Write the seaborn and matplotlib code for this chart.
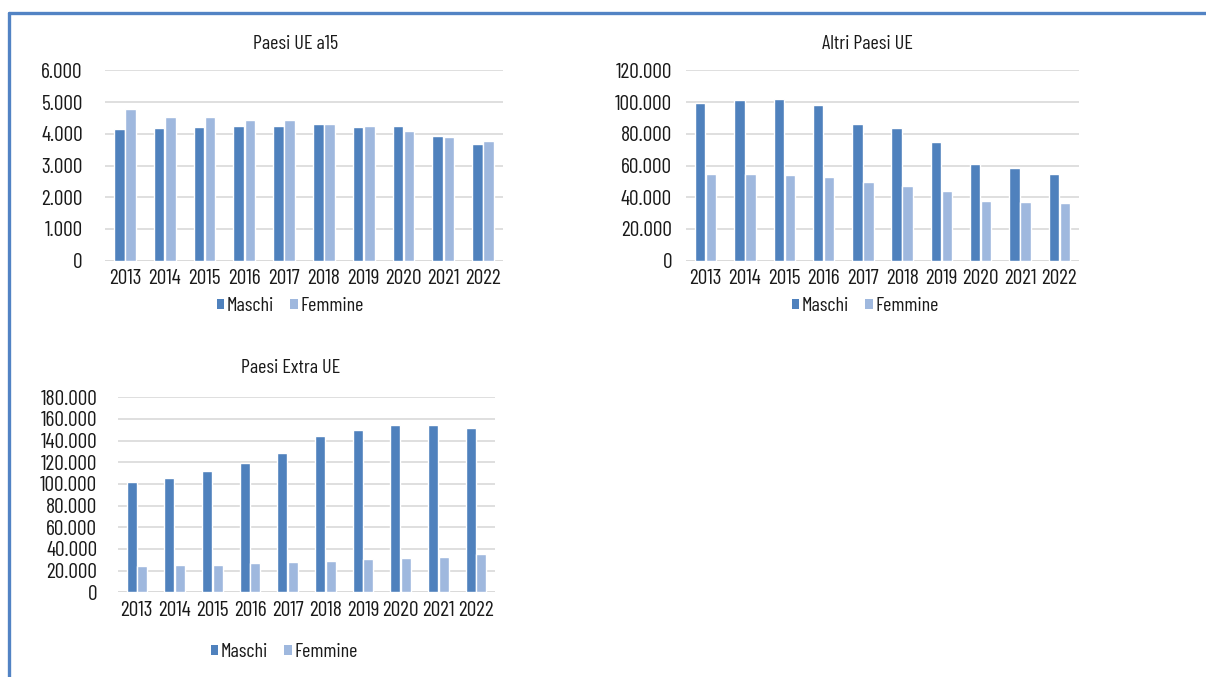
import matplotlib
matplotlib.use("Agg")
import matplotlib.pyplot as plt
import seaborn as sns
import pandas as pd
from matplotlib.ticker import FuncFormatter, MultipleLocator
from matplotlib.patches import Patch
from matplotlib.lines import Line2D

years = ["2013", "2014", "2015", "2016", "2017", "2018", "2019", "2020", "2021", "2022"]

ue15_maschi = [4140, 4170, 4210, 4260, 4230, 4310, 4210, 4230, 3930, 3680]
ue15_femmine = [4770, 4540, 4520, 4420, 4420, 4310, 4230, 4100, 3910, 3770]

altri_maschi = [99400, 101300, 101900, 98100, 86200, 83400, 75000, 60700, 58400, 54400]
altri_femmine = [54400, 54400, 54000, 53000, 49600, 47300, 44100, 37600, 37200, 36400]

extra_maschi = [101800, 105500, 112000, 119400, 128900, 144000, 149800, 154500, 154500, 151400]
extra_femmine = [24300, 24900, 25500, 27100, 27700, 28900, 30800, 31700, 32900, 35100]

titles = ["Paesi UE a15", "Altri Paesi UE", "Paesi Extra UE"]
series_labels = ["Maschi", "Femmine"]
colors = {"Maschi": "#4F81BD", "Femmine": "#9FB8DE"}

sns.set_theme(style="white")
FONT = ["Barlow Condensed", "Roboto Condensed", "DejaVu Sans"]
plt.rcParams["font.family"] = FONT
FS = 15.5
FS_TXT = 14.5
plt.rcParams["font.size"] = FS

W, H = 1206, 677
fig = plt.figure(figsize=(W / 100, H / 100), dpi=100)

def make_df(m, f):
    return pd.DataFrame({
        "Anno": years * 2,
        "Valore": m + f,
        "Sesso": ["Maschi"] * len(years) + ["Femmine"] * len(years),
    })

panels = [
    dict(df=make_df(ue15_maschi, ue15_femmine), box=(105, 70.3, 503, 260.7), ymax=6000, step=1000,
         title_xy=(296, 44), legend_xy=(290, 306), ypad=16),
    dict(df=make_df(altri_maschi, altri_femmine), box=(686, 70.3, 1079, 260.7), ymax=120000, step=20000,
         title_xy=(867, 44), legend_xy=(865, 306), ypad=10),
    dict(df=make_df(extra_maschi, extra_femmine), box=(118, 397.3, 495, 592.3), ymax=180000, step=20000,
         title_xy=(291, 368), legend_xy=(284, 652), ypad=15),
]

fmt = FuncFormatter(lambda v, p: f"{int(round(v)):,}".replace(",", "."))

for i, p in enumerate(panels):
    x0, y0, x1, y1 = p["box"]
    ax = fig.add_axes([x0 / W, 1 - y1 / H, (x1 - x0) / W, (y1 - y0) / H])
    sns.barplot(data=p["df"], x="Anno", y="Valore", hue="Sesso", hue_order=series_labels,
                palette=colors, width=0.56, gap=0.05, ax=ax, legend=False, saturation=1)
    ax.set_ylim(0, p["ymax"])
    ax.set_xlim(-0.5, len(years) - 0.5)
    ax.yaxis.set_major_locator(MultipleLocator(p["step"]))
    ax.yaxis.set_major_formatter(fmt)
    ax.grid(axis="y", color="#D9D9D9", linewidth=1.2)
    ax.set_axisbelow(True)
    for s in ax.spines.values():
        s.set_visible(False)
    ax.axhline(0, color="#D9D9D9", linewidth=1.2, zorder=0)
    ax.set_xlabel("")
    ax.set_ylabel("")
    ax.tick_params(axis="y", length=0, pad=p["ypad"], labelsize=FS, labelcolor="#1a1a1a")
    ax.tick_params(axis="x", length=0, pad=6, labelsize=FS, labelcolor="#1a1a1a")
    fig.text(p["title_xy"][0] / W, 1 - p["title_xy"][1] / H, titles[i], ha="center", va="center",
             fontsize=FS_TXT, color="#1a1a1a")
    handles = [Patch(facecolor=colors[s], edgecolor="none", label=s) for s in series_labels]
    fig.legend(handles=handles, loc="center", bbox_to_anchor=(p["legend_xy"][0] / W, 1 - p["legend_xy"][1] / H),
               ncol=2, frameon=False, fontsize=FS_TXT, handlelength=0.38, handleheight=0.38,
               handletextpad=0.12, columnspacing=0.8, labelcolor="#1a1a1a")

# outer border (top and left)
border_color = "#5283C4"
fig.add_artist(Line2D([8.5 / W, 1.0], [1 - 12.5 / H, 1 - 12.5 / H], color=border_color, linewidth=2.4,
                      transform=fig.transFigure))
fig.add_artist(Line2D([8.5 / W, 8.5 / W], [0, 1 - 12.5 / H], color=border_color, linewidth=2.4,
                      transform=fig.transFigure))

fig.savefig("out.png", dpi=100)
